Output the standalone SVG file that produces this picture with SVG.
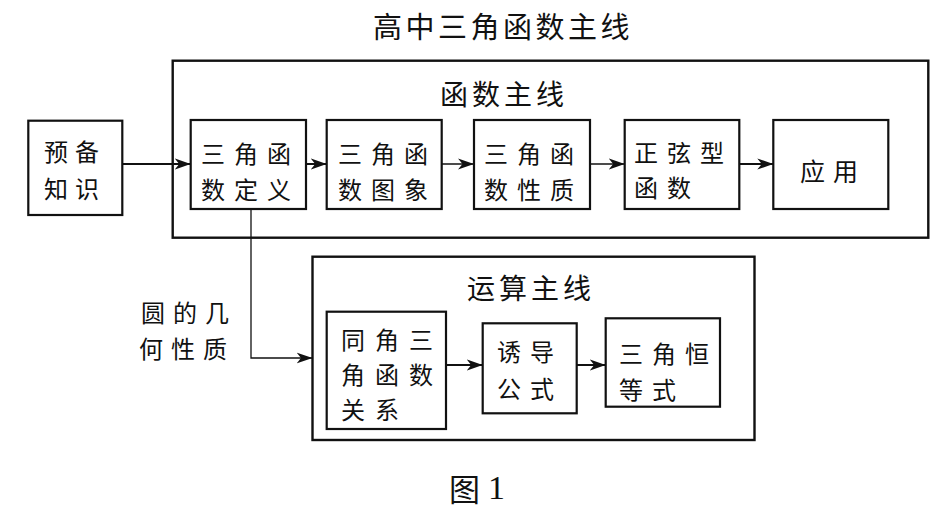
<svg xmlns="http://www.w3.org/2000/svg" width="947" height="514" viewBox="0 0 947 514">
<style>
  .box{fill:#fff;stroke:#111;stroke-width:2.2}
  .frame{fill:none;stroke:#111;stroke-width:2.4}
  .t{font-family:"Noto Sans CJK SC","Noto Sans CJK JP",sans-serif;font-size:24px;fill:#111;dominant-baseline:central;letter-spacing:9px}
  .h{font-size:28px;letter-spacing:4px}
  .c{stroke:#111;stroke-width:2;fill:none}
  .thin{stroke-width:1.3}
</style>
<defs>
  <marker id="ah" markerUnits="userSpaceOnUse" markerWidth="17" markerHeight="12" refX="16" refY="6" orient="auto">
    <path d="M0,0.5 L16,6 L0,11.5 L4.5,6 z" fill="#111"/>
  </marker>
</defs>
<rect width="947" height="514" fill="#fff"/>
<text class="t h" x="373" y="25" style="letter-spacing:3.5px;font-size:29px">高中三角函数主线</text>

<g id="main-frame">
  <rect class="frame" x="172.7" y="60.7" width="755.6" height="177"/>
  <text class="t h" x="440" y="93">函数主线</text>
</g>
<g id="calc-frame">
  <rect class="frame" x="312.5" y="256.7" width="442" height="183.3"/>
  <text class="t h" x="467" y="287">运算主线</text>
</g>

<g id="connectors">
  <line class="c" x1="122.3" y1="164" x2="190.7" y2="164" marker-end="url(#ah)"/>
  <line class="c" x1="306" y1="164" x2="326.7" y2="164" marker-end="url(#ah)"/>
  <line class="c thin" x1="441.7" y1="164" x2="474" y2="164" marker-end="url(#ah)"/>
  <line class="c thin" x1="590" y1="164" x2="624.7" y2="164" marker-end="url(#ah)"/>
  <line class="c" x1="739.3" y1="164" x2="773.3" y2="164" marker-end="url(#ah)"/>
  <polyline class="c thin" points="251,209 251,358 312.5,358" marker-end="url(#ah)"/>
  <line class="c" x1="446" y1="365" x2="482.7" y2="365" marker-end="url(#ah)"/>
  <line class="c" x1="576.7" y1="365" x2="605.7" y2="365" marker-end="url(#ah)"/>
  <text class="t" style="letter-spacing:8px"><tspan x="141" y="311">圆的几</tspan><tspan x="139" y="347">何性质</tspan></text>
</g>

<g id="n-yubei">
  <rect class="box" x="28.3" y="120.7" width="94" height="94.3"/>
  <text class="t" style="letter-spacing:7px"><tspan x="44" y="150">预备</tspan><tspan x="44" y="187">知识</tspan></text>
</g>
<g id="n-dingyi">
  <rect class="box" x="190.7" y="120" width="115.3" height="89"/>
  <text class="t"><tspan x="201" y="152">三角函</tspan><tspan x="201" y="188">数定义</tspan></text>
</g>
<g id="n-tuxiang">
  <rect class="box" x="326.7" y="120" width="115" height="89"/>
  <text class="t"><tspan x="338" y="152">三角函</tspan><tspan x="338" y="188">数图象</tspan></text>
</g>
<g id="n-xingzhi">
  <rect class="box" x="474" y="120" width="116" height="89"/>
  <text class="t"><tspan x="484" y="152">三角函</tspan><tspan x="484" y="188">数性质</tspan></text>
</g>
<g id="n-zhengxian">
  <rect class="box" x="624.7" y="120" width="114.6" height="89"/>
  <text class="t"><tspan x="634" y="151">正弦型</tspan><tspan x="634" y="186">函数</tspan></text>
</g>
<g id="n-yingyong">
  <rect class="box" x="773.3" y="120" width="115" height="89"/>
  <text class="t" x="800" y="170" style="letter-spacing:8px;font-size:25px">应用</text>
</g>
<g id="n-tongjiao">
  <rect class="box" x="326.7" y="311.7" width="119.3" height="117.3"/>
  <text class="t" style="letter-spacing:10px"><tspan x="341" y="338">同角三</tspan><tspan x="341" y="373">角函数</tspan><tspan x="341" y="408">关系</tspan></text>
</g>
<g id="n-youdao">
  <rect class="box" x="482.7" y="323.3" width="94" height="90"/>
  <text class="t"><tspan x="497" y="350">诱导</tspan><tspan x="497" y="387">公式</tspan></text>
</g>
<g id="n-hengdeng">
  <rect class="box" x="605.7" y="318.3" width="114.3" height="88.4"/>
  <text class="t"><tspan x="619" y="352">三角恒</tspan><tspan x="619" y="388">等式</tspan></text>
</g>

<text x="449" y="487" style="dominant-baseline:central;font-size:31px;fill:#111"><tspan font-family="Noto Sans CJK SC, sans-serif">图</tspan><tspan font-family="Liberation Serif, serif" dx="8" font-size="34">1</tspan></text>
</svg>
